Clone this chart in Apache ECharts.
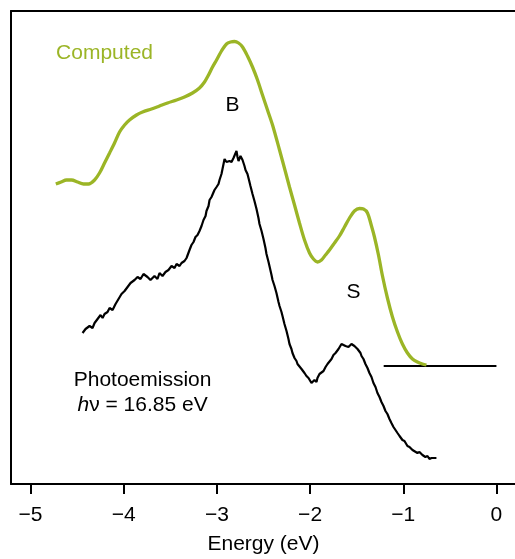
<!DOCTYPE html>
<html>
<head>
<meta charset="utf-8">
<script src="https://cdn.jsdelivr.net/npm/echarts@6/dist/echarts.min.js"></script>
<style>
  html, body { margin: 0; padding: 0; background: #fff; }
  #chart { width: 515px; height: 559px; }
</style>
</head>
<body>
<div id="chart"></div>
<script>
// Computed spectrum (smooth curve), energy in eV vs. intensity (arb. units)
const computedEnergy = [
  -4.729, -4.672, -4.614, -4.560, -4.496, -4.431, -4.378, -4.313, -4.260, -4.206,
  -4.152, -4.099, -4.045, -3.991, -3.938, -3.863, -3.798, -3.702, -3.616, -3.530,
  -3.433, -3.348, -3.262, -3.187, -3.133, -3.090, -3.047, -3.004, -2.951, -2.897,
  -2.854, -2.811, -2.768, -2.725, -2.672, -2.618, -2.564, -2.511, -2.457, -2.403,
  -2.328, -2.264, -2.221, -2.167, -2.114, -2.060, -2.006, -1.964, -1.921, -1.878,
  -1.835, -1.792, -1.738, -1.685, -1.631, -1.577, -1.524, -1.470, -1.427, -1.384,
  -1.341, -1.309, -1.266, -1.223, -1.170, -1.116, -1.062, -1.009, -0.955, -0.901,
  -0.848, -0.794, -0.751
];
const computedIntensity = [
  300, 302, 304, 304, 302, 300, 300, 304, 311, 321,
  331, 341, 352, 359, 364, 369, 372, 375, 378, 381,
  384, 387, 391, 396, 402, 409, 417, 424, 433, 440,
  442, 442.5, 441, 437, 428, 417, 404, 389, 374, 359,
  334, 312, 297, 279, 261, 244, 231, 225, 222, 224,
  229, 234, 241, 248, 257, 266, 273, 275.5, 275, 271,
  258, 247, 229, 208, 186, 167, 152, 140, 131, 125,
  122, 120, 119
];

// Photoemission spectrum, hv = 16.85 eV
const photoEnergy = [
  -4.442, -4.410, -4.367, -4.335, -4.313, -4.281, -4.249, -4.227, -4.206, -4.174,
  -4.152, -4.120, -4.088, -4.056, -4.024, -3.991, -3.959, -3.927, -3.884, -3.852,
  -3.820, -3.788, -3.745, -3.713, -3.670, -3.638, -3.616, -3.584, -3.552, -3.520,
  -3.487, -3.455, -3.433, -3.401, -3.380, -3.348, -3.326, -3.294, -3.273, -3.251,
  -3.230, -3.208, -3.187, -3.165, -3.144, -3.122, -3.112, -3.090, -3.079, -3.058,
  -3.047, -3.026, -3.004, -2.983, -2.972, -2.951, -2.940, -2.929, -2.918, -2.897,
  -2.886, -2.865, -2.843, -2.822, -2.811, -2.790, -2.779, -2.768, -2.747, -2.725,
  -2.704, -2.693, -2.672, -2.661, -2.640, -2.618, -2.597, -2.575, -2.554, -2.543,
  -2.521, -2.500, -2.479, -2.468, -2.446, -2.436, -2.414, -2.403, -2.382, -2.361,
  -2.339, -2.328, -2.307, -2.296, -2.275, -2.253, -2.232, -2.221, -2.200, -2.189,
  -2.167, -2.146, -2.135, -2.114, -2.092, -2.082, -2.060, -2.039, -2.017, -1.996,
  -1.985, -1.964, -1.953, -1.931, -1.921, -1.899, -1.878, -1.856, -1.834, -1.813,
  -1.792, -1.770, -1.749, -1.727, -1.706, -1.695, -1.674, -1.663, -1.652, -1.642,
  -1.620, -1.609, -1.588, -1.577, -1.556, -1.545, -1.524, -1.513, -1.491, -1.481,
  -1.459, -1.448, -1.427, -1.406, -1.384, -1.363, -1.341, -1.320, -1.298, -1.277,
  -1.255, -1.234, -1.212, -1.191, -1.170, -1.148, -1.127, -1.105, -1.084, -1.062,
  -1.040, -1.009, -0.987, -0.955, -0.933, -0.901, -0.880, -0.848, -0.826, -0.794,
  -0.762, -0.740, -0.719, -0.697, -0.676, -0.644
];
const photoIntensity = [
  151, 155, 158, 156, 161, 165, 169, 166, 170, 172,
  176, 174, 180, 185, 190, 193, 197, 201, 204, 207,
  205, 210, 207, 204, 208, 205, 211, 208, 212, 214,
  218, 216, 220, 218, 221, 223, 226, 234, 239, 242,
  247, 249, 253, 258, 264, 268, 273, 278, 284, 287,
  289, 294, 297, 300, 304, 310, 315, 320, 325, 322,
  320, 323, 322, 326, 324, 333, 327, 323, 328, 324,
  318, 314, 310, 306, 298, 290, 283, 275, 266, 260,
  253, 245, 236, 230, 222, 218, 209, 204, 198, 191,
  182, 178, 172, 168, 160, 153, 145, 140, 135, 131,
  126, 123, 120, 118, 115, 113, 111, 108, 106, 104,
  101, 102, 104, 102, 106, 110, 112, 113, 117, 120,
  122, 125, 129, 131, 133, 135, 137, 140, 142, 141,
  138, 139, 137, 138, 140, 138, 138, 136, 135, 133,
  131, 128, 125, 120, 116, 111, 107, 101, 97, 91,
  87, 82, 78, 73, 70, 65, 61, 57, 55, 51,
  48, 44, 43, 38, 37, 34, 33, 31, 32, 29,
  27, 28, 25, 26, 24, 26
];

// Reference level segment under the computed curve
const levelEnergy = [-1.21, 0];
const levelIntensity = [118, 118];

// Energy axis ticks
const tickValues = [-5, -4, -3, -2, -1, 0];

// Text annotations placed in data coordinates
const noteText = ['Computed', 'B', 'S', 'Photoemission', '{i|h}\u03bd = 16.85 eV'];
const noteEnergy = [-4.206, -2.833, -1.534, -3.798, -3.798];
const noteIntensity = [431, 379, 192, 104, 79];
const noteColor = ['#9bb526', '#000', '#000', '#000', '#000'];

const green = '#9bb526';
const font = '"Liberation Sans", Arial, Helvetica, sans-serif';
const fontSize = 21;
const frameLine = { show: true, onZero: false, lineStyle: { color: '#000', width: 2 } };

const zip = (xs, ys) => xs.map((x, i) => [x, ys[i]]);

const chart = echarts.init(document.getElementById('chart'), null, { renderer: 'canvas' });

chart.setOption({
  animation: false,
  backgroundColor: '#fff',
  grid: {
    left: 11, top: 11, width: 505, bottom: 75,
    outerBoundsMode: 'none',
    containLabel: false,
    show: false
  },
  xAxis: [
    {
      type: 'value',
      position: 'bottom',
      min: -5.21, max: 0.21,
      name: 'Energy (eV)',
      nameLocation: 'middle',
      nameGap: 50,
      nameTextStyle: { fontSize: fontSize, color: '#000', fontFamily: font },
      splitLine: { show: false },
      axisLine: frameLine,
      axisTick: {
        show: true, inside: false, length: 10,
        customValues: tickValues,
        lineStyle: { color: '#000', width: 2 }
      },
      axisLabel: {
        show: true, margin: 21, fontSize: fontSize, color: '#000', fontFamily: font,
        customValues: tickValues,
        formatter: v => String(v).replace('-', '\u2212')
      }
    },
    {
      // top edge of the frame
      type: 'value', position: 'top',
      min: -5.21, max: 0.21,
      axisLine: frameLine,
      axisTick: { show: false }, axisLabel: { show: false }, splitLine: { show: false }
    }
  ],
  yAxis: {
    type: 'value', min: 0, max: 473, position: 'left',
    axisLine: frameLine,
    axisTick: { show: false }, axisLabel: { show: false },
    splitLine: { show: false }
  },
  series: [
    {
      name: 'Computed', type: 'line', data: zip(computedEnergy, computedIntensity),
      smooth: 0.3, symbol: 'none',
      lineStyle: { color: green, width: 3.3 }
    },
    {
      name: 'Photoemission', type: 'line', data: zip(photoEnergy, photoIntensity),
      smooth: false, symbol: 'none',
      lineStyle: { color: '#000', width: 2.2 }
    },
    {
      name: 'Level', type: 'line', data: zip(levelEnergy, levelIntensity),
      symbol: 'none', z: 1,
      lineStyle: { color: '#000', width: 2 }
    }
  ]
});

// Annotation texts, positioned through the chart's own coordinate conversion
chart.setOption({
  graphic: noteText.map((t, i) => {
    const [px, py] = chart.convertToPixel({ xAxisIndex: 0, yAxisIndex: 0 }, [noteEnergy[i], noteIntensity[i]]);
    return {
      type: 'text', x: px, y: py, z: 10,
      style: {
        text: t, fill: noteColor[i], font: fontSize + 'px ' + font,
        align: 'center', verticalAlign: 'middle',
        rich: { i: { fontStyle: 'italic', fontSize: fontSize, fontFamily: font, fill: noteColor[i] } }
      }
    };
  })
});
</script>
</body>
</html>
